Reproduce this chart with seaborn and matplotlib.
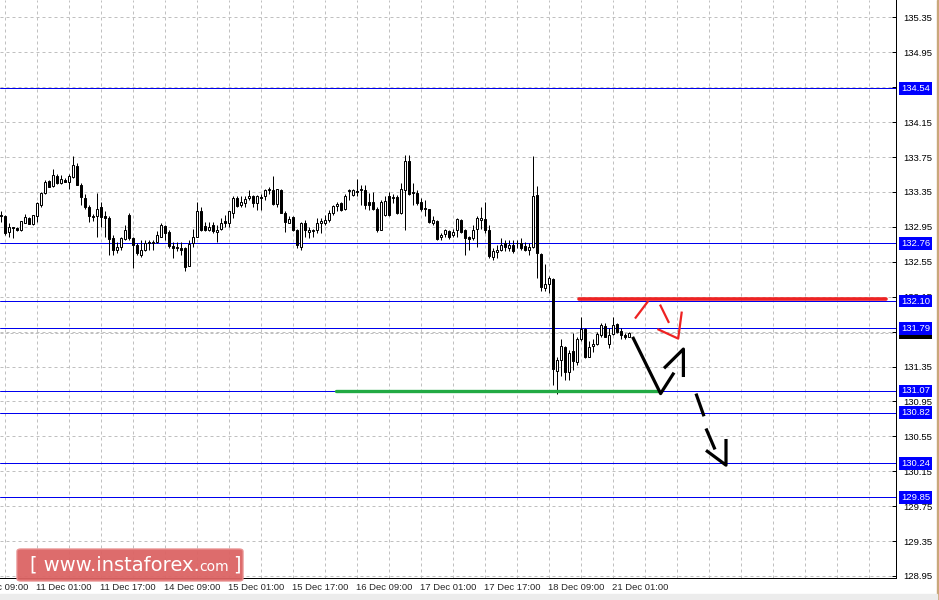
import numpy as np
import pandas as pd
import matplotlib
matplotlib.use('Agg')
import matplotlib.pyplot as plt
import matplotlib.transforms as mtransforms
from matplotlib.patches import Rectangle, FancyBboxPatch
import seaborn as sns

# H1 candles (bar 0 = 10 Dec 16:00)
opens = [133.09, 133.07, 132.89, 132.95, 132.94, 132.92, 133.00, 133.05, 132.98, 133.07,
         133.20, 133.34, 133.48, 133.42, 133.53, 133.45, 133.49, 133.46, 133.52, 133.65,
         133.43, 133.28, 133.18, 133.07, 133.07, 133.18, 133.07, 133.05, 132.82, 132.69,
         132.72, 132.81, 133.09, 132.82, 132.74, 132.63, 132.69, 132.78, 132.76, 132.78,
         132.84, 132.96, 132.89, 132.73, 132.72, 132.71, 132.71, 132.50, 132.76, 132.84,
         133.13, 132.96, 132.92, 132.97, 132.89, 132.93, 133.02, 132.99, 133.11, 133.28,
         133.20, 133.22, 133.28, 133.30, 133.22, 133.29, 133.30, 133.37, 133.37, 133.21,
         133.37, 133.11, 133.00, 133.06, 132.92, 132.72, 133.00, 132.89, 132.90, 132.91,
         133.00, 132.99, 133.03, 133.11, 133.19, 133.22, 133.15, 133.36, 133.31, 133.36,
         133.38, 133.37, 133.23, 133.23, 133.16, 132.92, 133.09, 133.30, 133.28, 133.29,
         133.11, 133.37, 133.71, 133.35, 133.34, 133.23, 133.17, 133.15, 132.99, 133.02,
         132.83, 132.87, 132.90, 132.86, 132.91, 133.03, 132.91, 132.84, 132.82, 132.93,
         133.03, 133.04, 132.92, 132.61, 132.66, 132.69, 132.76, 132.71, 132.74, 132.76,
         132.76, 132.73, 132.69, 132.72, 133.32, 132.64, 132.25, 132.30, 132.35, 131.30,
         131.43, 131.57, 131.29, 131.53, 131.40, 131.66, 131.78, 131.46, 131.58, 131.61,
         131.71, 131.81, 131.61, 131.72, 131.84, 131.76, 131.71, 131.69]
highs = [133.13, 133.09, 132.99, 132.95, 132.95, 133.02, 133.10, 133.06, 133.09, 133.24,
         133.35, 133.49, 133.49, 133.61, 133.56, 133.55, 133.51, 133.56, 133.76, 133.68,
         133.45, 133.33, 133.20, 133.10, 133.34, 133.24, 133.13, 133.07, 132.86, 132.78,
         132.84, 132.97, 133.11, 132.84, 132.76, 132.80, 132.80, 132.80, 132.80, 132.90,
         132.99, 132.97, 132.92, 132.78, 132.78, 132.78, 132.72, 132.80, 132.93, 133.23,
         133.18, 133.01, 133.01, 133.01, 132.97, 133.05, 133.09, 133.13, 133.30, 133.30,
         133.30, 133.30, 133.37, 133.32, 133.32, 133.33, 133.39, 133.41, 133.53, 133.39,
         133.38, 133.13, 133.07, 133.08, 132.93, 133.01, 133.03, 132.95, 132.93, 133.05,
         133.05, 133.09, 133.14, 133.20, 133.24, 133.24, 133.33, 133.38, 133.39, 133.50,
         133.43, 133.43, 133.34, 133.35, 133.18, 133.26, 133.30, 133.35, 133.33, 133.32,
         133.45, 133.77, 133.77, 133.45, 133.37, 133.28, 133.26, 133.16, 133.07, 133.03,
         132.88, 132.93, 132.92, 132.93, 133.05, 133.04, 132.93, 132.85, 132.97, 133.07,
         133.18, 133.24, 132.97, 132.71, 132.74, 132.82, 132.80, 132.80, 132.80, 132.80,
         132.82, 132.78, 132.77, 133.76, 133.42, 132.65, 132.53, 132.39, 132.36, 131.46,
         131.66, 131.59, 131.54, 131.74, 131.69, 131.92, 131.79, 131.64, 131.67, 131.75,
         131.85, 131.85, 131.79, 131.92, 131.85, 131.79, 131.74, 131.75]
lows = [133.01, 132.86, 132.84, 132.82, 132.90, 132.90, 132.99, 132.98, 132.97, 133.01,
        133.18, 133.33, 133.41, 133.41, 133.44, 133.44, 133.46, 133.38, 133.51, 133.43,
        133.20, 133.16, 133.01, 133.02, 132.84, 132.95, 132.84, 132.63, 132.63, 132.65,
        132.69, 132.80, 132.80, 132.48, 132.63, 132.61, 132.67, 132.69, 132.69, 132.76,
        132.83, 132.80, 132.71, 132.59, 132.67, 132.63, 132.44, 132.50, 132.72, 132.83,
        132.90, 132.90, 132.90, 132.88, 132.78, 132.92, 132.95, 132.95, 133.05, 133.18,
        133.18, 133.18, 133.26, 133.18, 133.14, 133.14, 133.26, 133.33, 133.20, 133.18,
        133.11, 132.89, 132.99, 132.90, 132.71, 132.69, 132.84, 132.82, 132.83, 132.88,
        132.88, 132.97, 133.01, 133.09, 133.13, 133.13, 133.14, 133.26, 133.30, 133.30,
        133.20, 133.16, 133.14, 133.14, 132.89, 132.91, 133.07, 133.08, 133.22, 133.10,
        133.10, 132.92, 133.32, 133.20, 133.20, 133.13, 133.08, 133.00, 132.97, 132.80,
        132.80, 132.84, 132.81, 132.84, 132.84, 132.88, 132.63, 132.69, 132.80, 132.72,
        132.93, 132.88, 132.59, 132.57, 132.59, 132.67, 132.67, 132.67, 132.65, 132.71,
        132.69, 132.67, 132.63, 132.71, 132.36, 132.21, 132.21, 132.19, 131.14, 131.03,
        131.24, 131.20, 131.20, 131.31, 131.37, 131.64, 131.45, 131.46, 131.52, 131.60,
        131.69, 131.69, 131.56, 131.71, 131.73, 131.66, 131.67, 131.69]
closes = [133.07, 132.88, 132.95, 132.94, 132.91, 133.02, 133.06, 132.98, 133.09, 133.22,
          133.34, 133.47, 133.41, 133.55, 133.45, 133.50, 133.47, 133.53, 133.66, 133.43,
          133.29, 133.18, 133.07, 133.06, 133.16, 133.06, 133.05, 132.81, 132.69, 132.72,
          132.82, 132.92, 132.82, 132.74, 132.65, 132.69, 132.76, 132.76, 132.78, 132.86,
          132.97, 132.88, 132.73, 132.71, 132.71, 132.69, 132.49, 132.75, 132.83, 133.13,
          132.92, 132.92, 132.95, 132.90, 132.92, 133.00, 132.99, 133.13, 133.28, 133.19,
          133.23, 133.27, 133.30, 133.22, 133.30, 133.28, 133.37, 133.38, 133.21, 133.38,
          133.11, 133.01, 133.04, 132.92, 132.74, 132.99, 132.91, 132.92, 132.92, 133.00,
          133.02, 133.03, 133.11, 133.19, 133.21, 133.14, 133.30, 133.37, 133.37, 133.35,
          133.37, 133.20, 133.20, 133.15, 132.92, 133.24, 133.25, 133.09, 133.29, 133.11,
          133.38, 133.70, 133.33, 133.34, 133.22, 133.15, 133.16, 133.01, 133.03, 132.81,
          132.86, 132.92, 132.84, 132.89, 133.04, 132.89, 132.82, 132.81, 132.92, 133.05,
          133.05, 132.92, 132.62, 132.67, 132.69, 132.74, 132.72, 132.74, 132.67, 132.76,
          132.71, 132.69, 132.72, 133.30, 132.65, 132.26, 132.30, 132.36, 131.32, 131.43,
          131.58, 131.29, 131.51, 131.41, 131.66, 131.78, 131.46, 131.57, 131.61, 131.72,
          131.83, 131.69, 131.71, 131.83, 131.75, 131.71, 131.69, 131.74]

levels = [134.54, 132.76, 132.10, 131.79, 131.07, 130.82, 130.24, 129.85]
bid = 131.74
ytick_vals = [128.95, 129.35, 129.75, 130.15, 130.55, 130.95, 131.35, 131.75,
              132.15, 132.55, 132.95, 133.35, 133.75, 134.15, 134.55, 134.95, 135.35]
xtick_pos = [-7, 9, 25, 41, 57, 73, 89, 105, 121, 137, 153]
xtick_labels = ['10 Dec 09:00', '11 Dec 01:00', '11 Dec 17:00', '14 Dec 09:00',
                '15 Dec 01:00', '15 Dec 17:00', '16 Dec 09:00', '17 Dec 01:00',
                '17 Dec 17:00', '18 Dec 09:00', '21 Dec 01:00']

# hand drawn marks (bar index, price)
green_x = [83.75, 164.25]
green_y = [131.07, 131.07]
red_x = [144.5, 221.25]
red_y = [132.12, 132.12]
path_x = [157.9, 164.9, 168.25]
path_y = [131.69, 131.04, 131.28]
head1_x = [165.75, 170.6, 170.6]
head1_y = [131.33, 131.55, 131.23]
dash1_x = [173.75, 175.75]
dash1_y = [131.04, 130.78]
dash2_x = [176.25, 178.5]
dash2_y = [130.64, 130.40]
head2_x = [176.25, 181.25, 181.25]
head2_y = [130.39, 130.22, 130.52]
red1_x = [158.5, 161.8]
red1_y = [131.90, 132.10]
red2_x = [164.75, 167.0]
red2_y = [132.06, 131.85]
red3_x = [164.1, 169.3, 170.2]
red3_y = [131.78, 131.67, 131.98]

df = pd.DataFrame({'open': opens, 'high': highs, 'low': lows, 'close': closes})
df['bar'] = np.arange(len(df))
df['bull'] = df.close >= df.open

sns.set_style('white')
plt.rcParams['font.family'] = ['Liberation Sans', 'DejaVu Sans']

fig = plt.figure(figsize=(9.39, 6.0), dpi=100)
ax = fig.add_axes([0, 22 / 600, 896 / 939, 578 / 600])
ax.set_xlim(-0.25, 223.75)
ax.set_ylim(128.927, 135.55)

px = 0.72  # one pixel in points
fs = 6.8
grid_kw = dict(color='#c0c0c0', lw=px, dashes=(3, 3), zorder=0)
for v in ytick_vals:
    ax.axhline(v, **grid_kw)
for g in np.arange(1, 224, 8):
    ax.axvline(g, **grid_kw)

for lv in levels:
    ax.axhline(lv, color='#0000ee', lw=px, zorder=1)
ax.axhline(bid, color='#c0c0c0', lw=px, dashes=(3, 2), zorder=1)

# candles
ax.vlines(df.bar, df.low, df.high, color='black', lw=px, zorder=2)
body_lo = df[['open', 'close']].min(axis=1)
body_h = (df.close - df.open).abs()
ax.bar(df.bar, body_h, bottom=body_lo, width=0.55,
       color=np.where(df.bull, 'white', 'black'), edgecolor='black', lw=px, zorder=3)

sns.lineplot(x=green_x, y=green_y, color='#22aa44', lw=2.4, ax=ax, zorder=4)
sns.lineplot(x=red_x, y=red_y, color='#ee2222', lw=2.6, ax=ax, zorder=4)
for xs, ys in [(path_x, path_y), (head1_x, head1_y), (dash1_x, dash1_y),
               (dash2_x, dash2_y), (head2_x, head2_y)]:
    ax.plot(xs, ys, color='black', lw=2.3, zorder=5, solid_capstyle='butt')
for xs, ys in [(red1_x, red1_y), (red2_x, red2_y), (red3_x, red3_y)]:
    ax.plot(xs, ys, color='#ee2222', lw=1.6, zorder=5, solid_capstyle='butt')

# axes frame
for s in ['top', 'left']:
    ax.spines[s].set_visible(False)
for s in ['right', 'bottom']:
    ax.spines[s].set_color('black')
    ax.spines[s].set_linewidth(px)

ax.yaxis.tick_right()
ax.set_yticks(ytick_vals)
ax.set_yticklabels([f'{v:.2f}' for v in ytick_vals], fontsize=fs)
ax.tick_params(axis='y', direction='in', length=3, width=px, pad=5, colors='black')

ax.set_xticks([p for p in xtick_pos if p >= 0])
ax.set_xticklabels([])
ax.tick_params(axis='x', direction='out', length=4, width=px, colors='black')
xt = mtransforms.blended_transform_factory(ax.transData, ax.transAxes)
for p, lab in zip(xtick_pos, xtick_labels):
    ax.text(p - 0.25, -0.008, lab, transform=xt, ha='left', va='top',
            fontsize=fs, clip_on=False)

yt = mtransforms.blended_transform_factory(ax.transAxes, ax.transData)
ax.text(1.006, bid, f'{bid:.2f}', transform=yt, ha='left', va='center',
        fontsize=fs, color='white', clip_on=False, zorder=6,
        bbox=dict(boxstyle='square,pad=0.2', fc='black', ec='none'))
for lv in levels:
    ax.text(1.006, lv, f'{lv:.2f}', transform=yt, ha='left', va='center',
            fontsize=fs, color='white', clip_on=False, zorder=7,
            bbox=dict(boxstyle='square,pad=0.2', fc='#0000ff', ec='none'))

# window border bits
fig.patches.append(Rectangle((937 / 939, 0), 2 / 939, 1, transform=fig.transFigure,
                             color='#c9a77a', zorder=0))
fig.patches.append(Rectangle((0, 0), 937 / 939, 6 / 600, transform=fig.transFigure,
                             color='#ececec', zorder=0))

# watermark
fig.patches.append(FancyBboxPatch((17 / 939, 19 / 600), 226 / 939, 32 / 600,
                                  boxstyle='round,pad=0,rounding_size=0.004',
                                  transform=fig.transFigure, fc='#dc6464', ec='#e89090',
                                  lw=1, alpha=0.95, zorder=10))
t1 = fig.text(30 / 939, 35 / 600, '[ www.instaforex.', fontsize=14, color='white',
              family='DejaVu Sans', ha='left', va='center', zorder=11)
fig.canvas.draw()
bb = t1.get_window_extent()
t2 = fig.text(bb.x1 / 939, 33 / 600, 'com', fontsize=10, color='white',
              family='DejaVu Sans', ha='left', va='center', zorder=11)
fig.canvas.draw()
bb2 = t2.get_window_extent()
fig.text(bb2.x1 / 939 + 4 / 939, 35 / 600, ']', fontsize=14, color='white',
         family='DejaVu Sans', ha='left', va='center', zorder=11)

fig.savefig('out.png', dpi=100, facecolor='white')
